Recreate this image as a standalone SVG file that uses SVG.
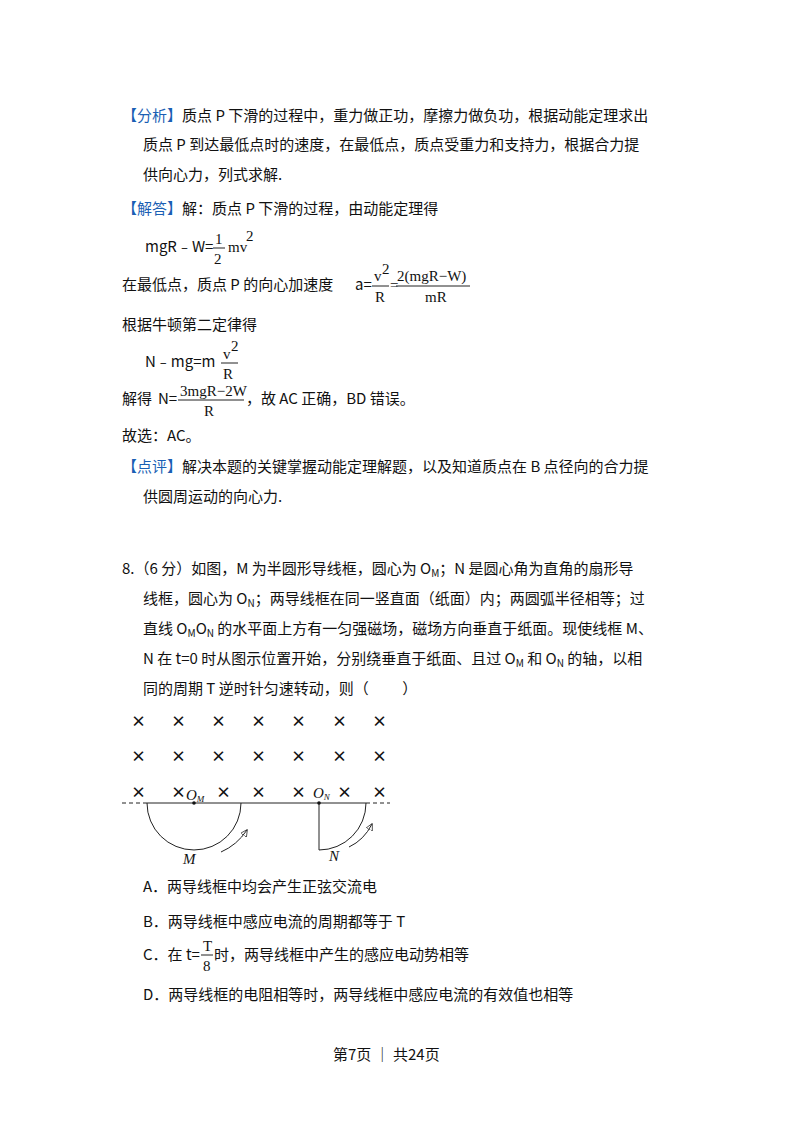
<svg xmlns="http://www.w3.org/2000/svg" width="800" height="1132" viewBox="0 0 800 1132">
<style>
text{font-family:"Noto Sans CJK SC","Noto Sans",sans-serif;font-size:15px;fill:#111}
.b{fill:#1a5fb4}
.s{font-family:"Liberation Serif",serif}
.i{font-family:"Liberation Serif",serif;font-style:italic}
.x{font-family:"DejaVu Sans",sans-serif;font-size:15px;font-weight:bold}
line,path{stroke:#222;fill:none}
</style>
<defs><marker id="a" viewBox="0 0 10 10" refX="9" refY="5" markerWidth="7" markerHeight="7" orient="auto"><path d="M0,0L10,5L0,10z" fill="#111" stroke="none"/></marker></defs>
<rect width="800" height="1132" fill="#fff"/>
<text x="122" y="121"><tspan class="b">【分析】</tspan>质点 P 下滑的过程中，重力做正功，摩擦力做负功，根据动能定理求出</text>
<text x="143" y="150">质点 P 到达最低点时的速度，在最低点，质点受重力和支持力，根据合力提</text>
<text x="143" y="180">供向心力，列式求解.</text>
<text x="122" y="214"><tspan class="b">【解答】</tspan>解：质点 P 下滑的过程，由动能定理得</text>
<text x="145" y="252">mgR﹣W=</text>
<text x="215" y="244" class="s">1</text><line x1="213" y1="248" x2="225" y2="248"/><text x="214" y="264" class="s">2</text>
<text x="228" y="252" class="s">mv</text><text x="246" y="241" class="s" font-size="11">2</text>
<text x="122" y="290">在最低点，质点 P 的向心加速度</text>
<text x="355" y="290">a=</text>
<text x="374" y="281" class="s">v</text><text x="382" y="274" class="s" font-size="11">2</text>
<line x1="372" y1="286" x2="389" y2="286"/><text x="375" y="302" class="s">R</text>
<text x="390" y="290" class="s">=</text>
<text x="397" y="281" class="s">2(mgR−W)</text><line x1="396" y1="286" x2="470" y2="286"/><text x="425" y="302" class="s">mR</text>
<text x="122" y="330">根据牛顿第二定律得</text>
<text x="145" y="367">N﹣mg=m</text>
<text x="223" y="359" class="s">v</text><text x="231" y="351" class="s" font-size="11">2</text>
<line x1="221" y1="363" x2="238" y2="363"/><text x="223" y="379" class="s">R</text>
<text x="122" y="404">解得</text><text x="158" y="404">N=</text>
<text x="180" y="396" class="s">3mgR−2W</text><line x1="178" y1="400" x2="244" y2="400"/><text x="204" y="416" class="s">R</text>
<text x="246" y="404">，故 AC 正确，BD 错误。</text>
<text x="122" y="441">故选：AC。</text>
<text x="122" y="472"><tspan class="b">【点评】</tspan>解决本题的关键掌握动能定理解题，以及知道质点在 B 点径向的合力提</text>
<text x="143" y="502">供圆周运动的向心力.</text>
<text x="122" y="574">8.（6 分）如图，M 为半圆形导线框，圆心为 O<tspan font-size="10" dy="3">M</tspan><tspan dy="-3">；N 是圆心角为直角的扇形导</tspan></text>
<text x="143" y="604">线框，圆心为 O<tspan font-size="10" dy="3">N</tspan><tspan dy="-3">；两导线框在同一竖直面（纸面）内；两圆弧半径相等；过</tspan></text>
<text x="143" y="634">直线 O<tspan font-size="10" dy="3">M</tspan><tspan dy="-3">O</tspan><tspan font-size="10" dy="3">N</tspan><tspan dy="-3"> 的水平面上方有一匀强磁场，磁场方向垂直于纸面。现使线框 M、</tspan></text>
<text x="143" y="664">N 在 t=0 时从图示位置开始，分别绕垂直于纸面、且过 O<tspan font-size="10" dy="3">M</tspan><tspan dy="-3"> 和 O</tspan><tspan font-size="10" dy="3">N</tspan><tspan dy="-3"> 的轴，以相</tspan></text>
<text x="143" y="694">同的周期 T 逆时针匀速转动，则（&#160;&#160;&#160;&#160;&#160;&#160;&#160;&#160;&#160;&#160;）</text>
<g id="field" class="x">
<text x="131" y="727">×</text><text x="171" y="727">×</text><text x="211" y="727">×</text><text x="251" y="727">×</text><text x="291" y="727">×</text><text x="332" y="727">×</text><text x="372" y="727">×</text>
<text x="131" y="762">×</text><text x="171" y="762">×</text><text x="211" y="762">×</text><text x="251" y="762">×</text><text x="291" y="762">×</text><text x="332" y="762">×</text><text x="372" y="762">×</text>
<text x="131" y="798">×</text><text x="171" y="798">×</text><text x="216" y="798">×</text><text x="251" y="798">×</text><text x="291" y="798">×</text><text x="337" y="798">×</text><text x="372" y="798">×</text>
</g>
<g id="line">
<line x1="122" y1="803" x2="146" y2="803" stroke-dasharray="4,3"/>
<line x1="146" y1="803" x2="366" y2="803"/>
<line x1="366" y1="803" x2="390" y2="803" stroke-dasharray="4,3"/>
</g>
<g id="M">
<path d="M147,803 A47,47 0 0 0 241,803"/>
<circle cx="194" cy="803" r="1.8" fill="#111"/>
<text x="186" y="800" class="i" font-size="14">O<tspan font-size="9" dy="2">M</tspan></text>
<text x="183" y="864" class="i" font-size="14">M</text>
</g>
<g id="N">
<path d="M319,803 L319,850 A47,47 0 0 0 366,803"/>
<circle cx="319" cy="803" r="1.8" fill="#111"/>
<text x="313" y="798" class="i" font-size="14">O<tspan font-size="9" dy="2">N</tspan></text>
<text x="329" y="861" class="i" font-size="14">N</text>
</g>
<g id="connectors">
<path d="M221,852 Q237,845 247,830" marker-end="url(#a)"/>
<path d="M349,847 Q364,840 372,824" marker-end="url(#a)"/>
</g>
<text x="143" y="892">A．两导线框中均会产生正弦交流电</text>
<text x="143" y="927">B．两导线框中感应电流的周期都等于 T</text>
<text x="143" y="960">C．在 t=</text>
<text x="203" y="951" class="s">T</text><line x1="201" y1="955" x2="213" y2="955"/><text x="203" y="971" class="s">8</text>
<text x="214" y="960">时，两导线框中产生的感应电动势相等</text>
<text x="143" y="1000">D．两导线框的电阻相等时，两导线框中感应电流的有效值也相等</text>
<text x="333" y="1060" font-size="13">第7页  ｜  共24页</text>
</svg>
